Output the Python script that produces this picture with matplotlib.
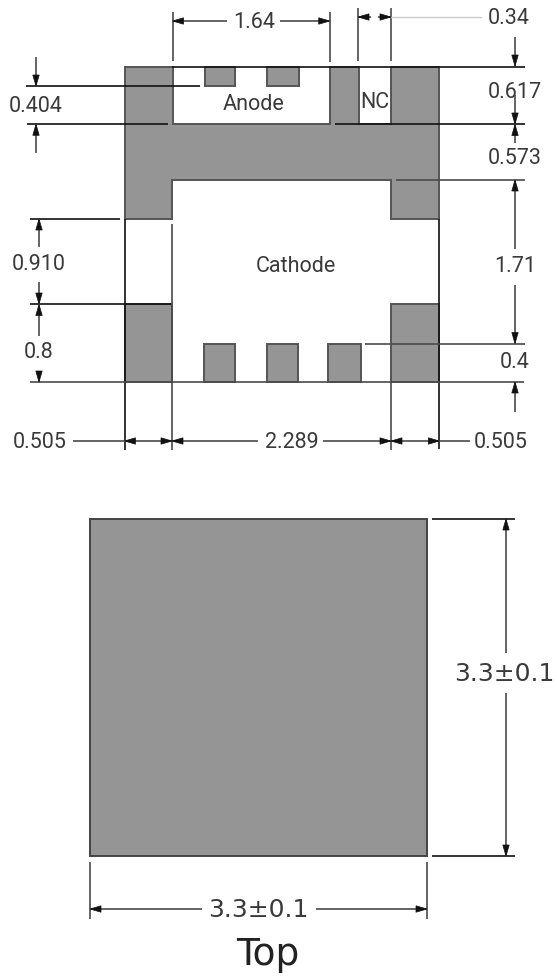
import matplotlib
matplotlib.use('Agg')
import matplotlib.pyplot as plt
from matplotlib.patches import Polygon, Rectangle

# everything below is measured on the drawing, in picture pixels
lead_frame = [(124.5, 66.5), (172.5, 66.5), (172.5, 124), (330, 124), (330, 66.5),
              (358.5, 66.5), (358.5, 124), (391, 124), (391, 66.5), (439.3, 66.5),
              (439.3, 219), (391, 219), (391, 180), (172, 180), (172, 219), (124.5, 219)]
# x0, y0, x1, y1
pads = [(204.5, 66.5, 235, 86), (266.5, 66.5, 298.5, 86),
        (124.5, 304.3, 172, 381.7), (391, 304.3, 439.3, 381.7),
        (203.5, 343.5, 235, 381.7), (266.5, 343.5, 297.7, 381.7), (328.3, 343.5, 360.7, 381.7)]
top_view = (90, 519, 427, 856)

# x0, y0, x1, y1
black_lines = [(172, 66.5, 525, 66.5), (27, 124.3, 168, 124.3), (335, 124.3, 525, 124.3),
               (26, 86, 200, 86), (30, 219, 120, 219), (30, 304.3, 172, 304.3),
               (124.5, 219, 124.5, 450), (439.3, 219, 439.3, 449),
               (432, 519, 515, 519), (432, 856, 515, 856)]
grey_lines = [(172.5, 12, 172.5, 61), (329.7, 12, 329.7, 62), (358, 8, 358, 61), (391, 8, 391, 61),
              (173, 21, 227, 21), (280, 21, 329, 21), (358, 17, 371, 17), (378, 17, 391, 17),
              (396, 180, 525, 180), (365, 343.5, 525, 343.5), (30, 381.7, 524, 381.7),
              (172, 224, 172, 450), (391, 382, 391, 450),
              (515, 37, 515, 66), (515, 95, 515, 124), (515, 124, 515, 143), (515, 180, 515, 249),
              (515, 285, 515, 343), (515, 382, 515, 412),
              (36, 57, 36, 86), (36, 124, 36, 153), (39, 219, 39, 247), (39, 282, 39, 304),
              (39, 304, 39, 336), (39, 371, 39, 382),
              (73, 441, 258, 441), (323, 441, 470, 441),
              (90, 862, 90, 919), (427, 862, 427, 919), (90, 909, 202, 909), (316, 909, 427, 909),
              (506, 519, 506, 653), (506, 693, 506, 856)]
faint_lines = [(391, 17, 481, 17)]

# tip x, tip y, direction
arrows = [(172.5, 21, 'l'), (329.7, 21, 'r'), (358, 17, 'l'), (391, 17, 'r'),
          (515, 66, 'd'), (515, 124, 'd'), (515, 124.5, 'u'), (515, 180, 'u'), (515, 343.5, 'd'),
          (515, 382, 'u'), (36, 86, 'd'), (36, 124.3, 'u'), (39, 219, 'u'), (39, 304, 'd'),
          (39, 304.5, 'u'), (39, 382, 'd'),
          (124.5, 441, 'l'), (172, 441, 'r'), (172, 441, 'l'), (391, 441, 'r'), (391, 441, 'l'),
          (439.3, 441, 'r'),
          (90, 909, 'l'), (427, 909, 'r'), (506, 519, 'u'), (506, 856, 'd')]

iso_labels = [('1.64', 254, 22), ('0.34', 509, 18), ('0.617', 515, 93), ('0.573', 515, 159),
              ('1.71', 515, 266), ('0.4', 515, 362), ('0.404', 36, 106), ('0.910', 39, 264),
              ('0.8', 39, 353), ('0.505', 40, 442), ('2.289', 292, 442), ('0.505', 501, 442),
              ('Anode', 254, 104), ('NC', 375, 102), ('Cathode', 296, 267)]
big_labels = [('3.3±0.1', 258, 910), ('3.3±0.1', 504, 674)]

fill = '#959595'
edge = '#555555'
dark = '#3a3a3a'


def draw_arrow(ax, x, y, d):
    # tip at x, y, length 11 and width 6.5 pixels
    dx, dy = {'l': (1, 0), 'r': (-1, 0), 'u': (0, 1), 'd': (0, -1)}[d]
    pts = [(x, y), (x + 11 * dx + 3.2 * dy, y + 11 * dy + 3.2 * dx),
           (x + 11 * dx - 3.2 * dy, y + 11 * dy - 3.2 * dx)]
    ax.add_patch(Polygon(pts, closed=True, fc='#111111', ec='#111111', lw=0.5, zorder=4))


fig = plt.figure(figsize=(5.57, 9.76), dpi=100)
ax = fig.add_axes([0, 0, 1, 1])
ax.set_xlim(0, 557)
ax.set_ylim(976, 0)
ax.axis('off')

ax.add_patch(Polygon(lead_frame, closed=True, fc=fill, ec=edge, lw=1.4, zorder=2))
for x0, y0, x1, y1 in pads:
    ax.add_patch(Rectangle((x0, y0), x1 - x0, y1 - y0, fc=fill, ec=edge, lw=1.4, zorder=2))
x0, y0, x1, y1 = top_view
ax.add_patch(Rectangle((x0, y0), x1 - x0, y1 - y0, fc=fill, ec='#444444', lw=1.4, zorder=2))

for x0, y0, x1, y1 in black_lines:
    ax.plot([x0, x1], [y0, y1], color='#111111', lw=1.2, zorder=3, solid_capstyle='butt')
for x0, y0, x1, y1 in grey_lines:
    ax.plot([x0, x1], [y0, y1], color='#4a4a4a', lw=1.2, zorder=3, solid_capstyle='butt')
for x0, y0, x1, y1 in faint_lines:
    ax.plot([x0, x1], [y0, y1], color='#cccccc', lw=1.0, zorder=3)

for x, y, d in arrows:
    draw_arrow(ax, x, y, d)

for s, x, y in iso_labels:
    ax.text(x, y, s, ha='center', va='center', fontsize=15.5, color=dark,
            family='Roboto', zorder=5)
for s, x, y in big_labels:
    ax.text(x, y, s, ha='center', va='center', fontsize=18, color=dark, zorder=5)
ax.text(268, 955, 'Top', ha='center', va='center', fontsize=27, color='#222222', zorder=5)

fig.savefig('out.png', dpi=100)
